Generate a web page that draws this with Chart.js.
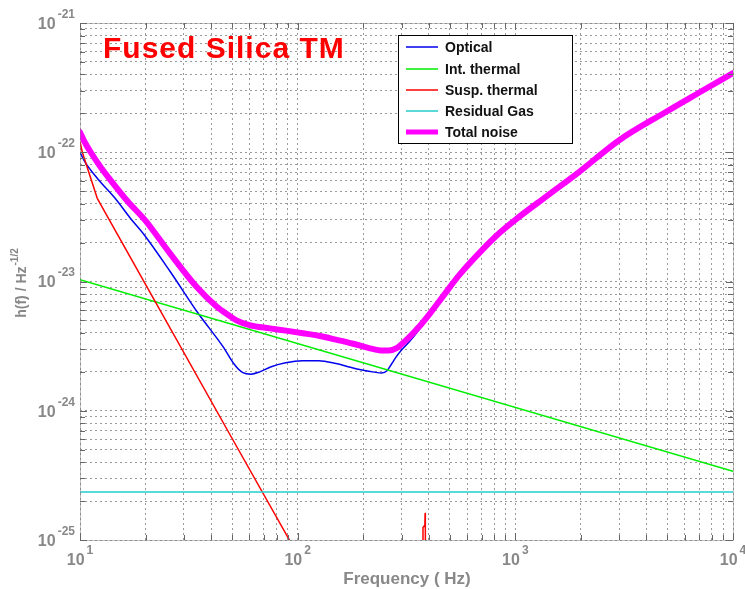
<!DOCTYPE html>
<html>
<head>
<meta charset="utf-8">
<script src="https://cdn.jsdelivr.net/npm/chart.js@4.4.1/dist/chart.umd.min.js"></script>
<style>
  html, body { margin: 0; padding: 0; background: #fff; }
  #wrap { width: 745px; height: 589px; position: relative; }
</style>
</head>
<body>
<div id="wrap"><canvas id="c" width="745" height="589"></canvas></div>
<script>
// ---- Data ----
const titleText = "Fused Silica TM";
const xTitle = "Frequency ( Hz)";
const yTitleMain = "h(f) / Hz";
const yTitleSup = "-1/2";

const xMajorTicks = [10, 100, 1000, 10000];
const xTickBase = ["10", "10", "10", "10"];
const xTickExp = ["1", "2", "3", "4"];
const yMajorTicks = [1e-25, 1e-24, 1e-23, 1e-22, 1e-21];
const yTickBase = ["10", "10", "10", "10", "10"];
const yTickExp = ["-25", "-24", "-23", "-22", "-21"];
const minorMultipliers = [2, 3, 4, 5, 6, 7, 8, 9];

const seriesNames = ["Optical", "Int. thermal", "Susp. thermal", "Residual Gas", "Total noise"];

const opticalF = [10, 10.5, 12, 14.5, 17, 19.9, 25.9, 34.9, 45.4, 51, 56, 61, 67, 75, 88, 105, 125, 150, 175, 200, 225, 243, 258, 270, 283, 300, 325, 350, 374, 420, 463, 552, 703, 845, 1000, 1400, 1967, 3000, 4913, 7000, 10000];
const opticalH = [1.0e-22, 8.5e-23, 6.3e-23, 4.4e-23, 3.1e-23, 2.25e-23, 1.2e-23, 5.68e-24, 3.13e-24, 2.3e-24, 1.97e-24, 1.92e-24, 2.0e-24, 2.18e-24, 2.35e-24, 2.44e-24, 2.44e-24, 2.32e-24, 2.17e-24, 2.06e-24, 1.99e-24, 1.96e-24, 2.05e-24, 2.3e-24, 2.6e-24, 2.95e-24, 3.4e-24, 3.95e-24, 4.6e-24, 6.0e-24, 7.5e-24, 1.11e-23, 1.74e-23, 2.36e-23, 3.0e-23, 4.5e-23, 6.9e-23, 1.23e-22, 2.05e-22, 2.9e-22, 4.07e-22];

const intThermalF = [10, 10000];
const intThermalH = [1.03e-23, 3.4e-25];

const suspThermalF = [10, 10.25, 10.55, 12, 20, 50, 100, 200, 376, 376.5, 384, 385, 386, 390, 1000, 10000];
const suspThermalH = [1.2e-22, 1.0e-22, 8.6e-23, 4.4e-23, 9.5e-24, 6.1e-25, 7.7e-26, 9.6e-27, 2e-27, 1.25e-25, 1.3e-25, 1.6e-25, 1.2e-25, 2e-27, 5e-28, 5e-31];

const residualGasF = [10, 10000];
const residualGasH = [2.35e-25, 2.35e-25];

const totalF = [10, 10.5, 11.2, 12.5, 14.2, 16.5, 19.9, 25.9, 34.3, 42.4, 48, 52.3, 60, 74.5, 90, 105.7, 125, 150, 180, 213, 240, 262, 285, 302, 330, 362, 410, 463, 552, 703, 845, 1000, 1400, 1967, 3000, 4913, 7000, 10000];
const totalH = [1.43e-22, 1.2e-22, 1.0e-22, 7.6e-23, 5.74e-23, 4.2e-23, 2.98e-23, 1.65e-23, 9.1e-24, 6.4e-24, 5.5e-24, 5.0e-24, 4.6e-24, 4.34e-24, 4.15e-24, 3.98e-24, 3.8e-24, 3.55e-24, 3.3e-24, 3.05e-24, 2.93e-24, 2.92e-24, 3.05e-24, 3.3e-24, 3.8e-24, 4.48e-24, 5.8e-24, 7.6e-24, 1.12e-23, 1.75e-23, 2.37e-23, 3.0e-23, 4.6e-23, 7.06e-23, 1.24e-22, 2.05e-22, 2.9e-22, 4.1e-22];

// ---- Styles ----
const colors = ["#0000ee", "#00ee00", "#ff0000", "#22cccc", "#ff00ff"];
const widths = [1.5, 1.5, 1.5, 1.5, 6];
const smooth = [true, false, false, false, true];
const gray = "#888888";

function pts(f, h) { return f.map((v, i) => ({ x: v, y: h[i] })); }

function allTicks(majors) {
  const out = [];
  majors.forEach((m, i) => {
    out.push(m);
    if (i < majors.length - 1) minorMultipliers.forEach(k => out.push(m * k));
  });
  return out;
}
const xAllTicks = allTicks(xMajorTicks);
const yAllTicks = allTicks(yMajorTicks);

const seriesF = [opticalF, intThermalF, suspThermalF, residualGasF, totalF];
const seriesH = [opticalH, intThermalH, suspThermalH, residualGasH, totalH];

const datasets = seriesNames.map((n, i) => ({
  label: n,
  data: pts(seriesF[i], seriesH[i]),
  borderColor: colors[i],
  backgroundColor: colors[i],
  borderWidth: widths[i],
  pointRadius: 0,
  fill: false,
  cubicInterpolationMode: smooth[i] ? "monotone" : "default",
  tension: 0,
  borderJoinStyle: "round",
  borderCapStyle: "round",
  order: i === 4 ? 0 : 5 - i
}));

function drawPow(ctx, base, exp, x, y, mode) {
  ctx.save();
  ctx.fillStyle = gray;
  ctx.textBaseline = "middle";
  ctx.font = "bold 16px 'Liberation Sans', Arial, sans-serif";
  const wb = ctx.measureText(base).width;
  ctx.font = "bold 12px 'Liberation Sans', Arial, sans-serif";
  const we = ctx.measureText(exp).width;
  let x0;
  if (mode === "center") x0 = x - (wb + we + 2) / 2;
  else x0 = x - (wb + we + 2);
  ctx.textAlign = "left";
  ctx.font = "bold 16px 'Liberation Sans', Arial, sans-serif";
  ctx.fillText(base, x0, y);
  ctx.font = "bold 12px 'Liberation Sans', Arial, sans-serif";
  ctx.fillText(exp, x0 + wb + 2, y - 10);
  ctx.restore();
}

const decor = {
  id: "decor",
  afterDatasetsDraw(chart) {
    const ctx = chart.ctx;
    const a = chart.chartArea;
    const xs = chart.scales.x, ys = chart.scales.y;
    ctx.save();
    // frame
    ctx.strokeStyle = "#7a7a7a";
    ctx.lineWidth = 1;
    ctx.setLineDash([1, 1]);
    ctx.strokeRect(Math.round(a.left) + 0.5, Math.round(a.top) + 0.5, Math.round(a.right - a.left), Math.round(a.bottom - a.top));
    ctx.setLineDash([]);
    // inward ticks
    ctx.strokeStyle = "#666";
    xAllTicks.forEach(v => {
      const px = Math.round(xs.getPixelForValue(v)) + 0.5;
      const len = xMajorTicks.includes(v) ? 7 : 5;
      ctx.beginPath();
      ctx.moveTo(px, a.bottom); ctx.lineTo(px, a.bottom - len);
      ctx.moveTo(px, a.top); ctx.lineTo(px, a.top + len);
      ctx.stroke();
    });
    yAllTicks.forEach(v => {
      const py = Math.round(ys.getPixelForValue(v)) + 0.5;
      const len = yMajorTicks.includes(v) ? 7 : 5;
      ctx.beginPath();
      ctx.moveTo(a.left, py); ctx.lineTo(a.left + len, py);
      ctx.moveTo(a.right, py); ctx.lineTo(a.right - len, py);
      ctx.stroke();
    });
    // tick labels
    xMajorTicks.forEach((v, i) => {
      drawPow(ctx, xTickBase[i], xTickExp[i], xs.getPixelForValue(v), a.bottom + 21, "center");
    });
    yMajorTicks.forEach((v, i) => {
      drawPow(ctx, yTickBase[i], yTickExp[i], 75, ys.getPixelForValue(v) + 1.5, "right");
    });
    // axis titles
    ctx.fillStyle = gray;
    ctx.font = "bold 17px 'Liberation Sans', Arial, sans-serif";
    ctx.textAlign = "center";
    ctx.textBaseline = "middle";
    ctx.fillText(xTitle, 407, 579);
    ctx.save();
    ctx.translate(22, 283);
    ctx.rotate(-Math.PI / 2);
    ctx.font = "bold 14px 'Liberation Sans', Arial, sans-serif";
    const wm = ctx.measureText(yTitleMain).width;
    ctx.font = "bold 10px 'Liberation Sans', Arial, sans-serif";
    const ws = ctx.measureText(yTitleSup).width;
    const start = -(wm + ws + 1) / 2;
    ctx.textAlign = "left";
    ctx.font = "bold 14px 'Liberation Sans', Arial, sans-serif";
    ctx.fillText(yTitleMain, start, 0);
    ctx.font = "bold 10px 'Liberation Sans', Arial, sans-serif";
    ctx.fillText(yTitleSup, start + wm + 1, -7);
    ctx.restore();
    // title
    ctx.fillStyle = "#ff0000";
    ctx.font = "bold 30px 'Liberation Sans', Arial, sans-serif";
    ctx.textAlign = "left";
    ctx.textBaseline = "alphabetic";
    try { ctx.letterSpacing = "1px"; } catch (e) {}
    ctx.fillText(titleText, 103, 58);
    try { ctx.letterSpacing = "0px"; } catch (e) {}
    // legend
    const lx = 398, ly = 35, lw = 174, lh = 108;
    ctx.fillStyle = "#fff";
    ctx.fillRect(lx, ly, lw, lh);
    ctx.strokeStyle = "#000";
    ctx.lineWidth = 1;
    ctx.strokeRect(lx + 0.5, ly + 0.5, lw, lh);
    const rows = [47, 69, 90, 111, 132];
    seriesNames.forEach((n, i) => {
      ctx.strokeStyle = colors[i];
      ctx.lineWidth = i === 4 ? 5 : 1.5;
      ctx.beginPath();
      ctx.moveTo(406, rows[i]); ctx.lineTo(438, rows[i]);
      ctx.stroke();
      ctx.fillStyle = "#111";
      ctx.font = "bold 14px 'Liberation Sans', Arial, sans-serif";
      ctx.textBaseline = "middle";
      ctx.fillText(n, 445, rows[i] + 1);
    });
    ctx.restore();
  }
};

new Chart(document.getElementById("c"), {
  type: "line",
  data: { datasets },
  options: {
    responsive: false,
    animation: false,
    parsing: true,
    layout: { padding: { left: 80, top: 23, right: 12, bottom: 49 } },
    plugins: { legend: { display: false }, tooltip: { enabled: false }, title: { display: false } },
    scales: {
      x: {
        type: "logarithmic",
        min: 10, max: 10000,
        afterBuildTicks: s => { s.ticks = xAllTicks.map(v => ({ value: v })); },
        afterFit: s => { s.height = 0; },
        ticks: { display: false },
        grid: { color: "#9a9a9a", lineWidth: 1, drawTicks: false },
        border: { display: false, dash: [2, 3] }
      },
      y: {
        type: "logarithmic",
        min: 1e-25, max: 1e-21,
        afterBuildTicks: s => { s.ticks = yAllTicks.map(v => ({ value: v })); },
        afterFit: s => { s.width = 0; },
        ticks: { display: false },
        grid: { color: "#9a9a9a", lineWidth: 1, drawTicks: false },
        border: { display: false, dash: [2, 3] }
      }
    }
  },
  plugins: [decor]
});
</script>
</body>
</html>
